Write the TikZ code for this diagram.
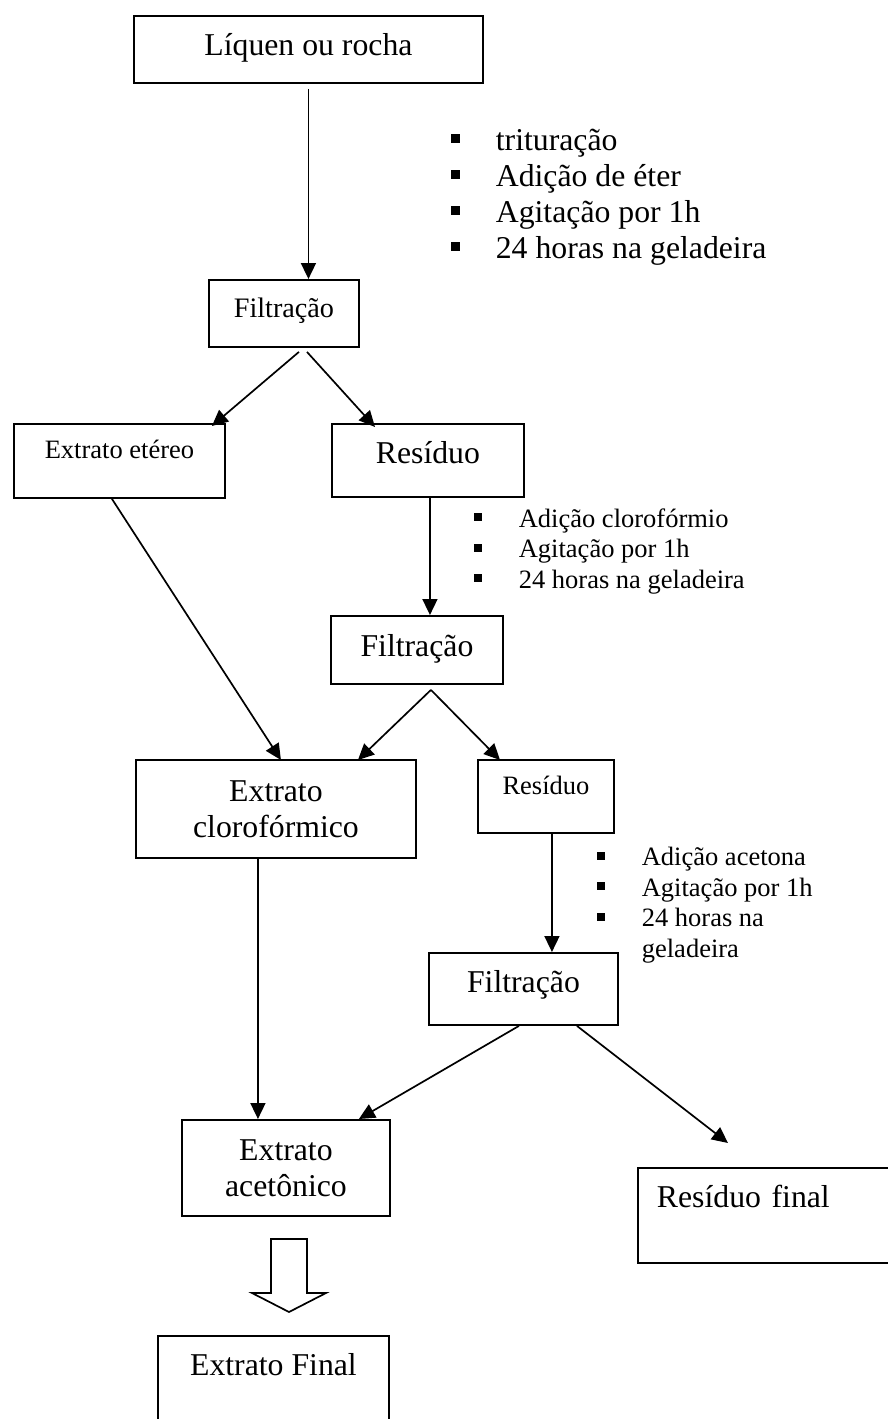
\documentclass[tikz,border=0pt]{standalone}
\usepackage{fontspec}
\setmainfont{Liberation Serif}
\usetikzlibrary{arrows.meta}
\newcommand{\fbig}{\fontsize{31.75}{36}\selectfont}
\newcommand{\fmid}{\fontsize{28.2}{34}\selectfont}
\newcommand{\fsmall}{\fontsize{26.5}{30.5}\selectfont}
\newcommand{\itm}{\makebox[45pt][l]{\rule[0.22em]{0.29em}{0.29em}}}

\begin{document}
\begin{tikzpicture}[x=1pt, y=-1pt, line width=1.7pt, >={Triangle[length=16pt,width=15pt]},
    box/.style={draw, line width=1.9pt, anchor=north west, inner xsep=0pt, inner ysep=0pt, font=\fbig},
    list/.style={anchor=base west, align=left, inner sep=0pt}]
    \useasboundingbox (0,0) rectangle (888,1419);
    \clip (0,0) rectangle (888,1419);

    % caixas
    \node[box, minimum width=349pt, text height=40pt, text depth=27pt] (liquen) at (133,15) {Líquen ou rocha};
    \node[box, font=\fmid, minimum width=150pt, text height=38pt, text depth=29pt] (filt1) at (208,279) {Filtração};
    \node[box, font=\fsmall, minimum width=211pt, text height=35pt, text depth=39pt] (etereo) at (13,423) {Extrato etéreo};
    \node[box, minimum width=192pt, text height=40pt, text depth=33pt] (res1) at (331,423) {Resíduo};
    \node[box, minimum width=172pt, text height=41pt, text depth=27pt] (filt2) at (330,615) {Filtração};
    \node[box, align=center, minimum width=280pt, minimum height=98pt] (cloro) at (135,759) {Extrato\\clorofórmico};
    \node[box, font=\fsmall, minimum width=136pt, text height=35pt, text depth=38pt] (res2) at (477,759) {Resíduo};
    \node[box, minimum width=189pt, text height=40pt, text depth=32pt] (filt3) at (428,952) {Filtração};
    \node[box, align=center, minimum width=208pt, minimum height=96pt] (aceto) at (181,1119) {Extrato\\acetônico};
    \node[box, minimum width=231pt, text height=40pt, text depth=100pt] (final) at (157,1335) {Extrato Final};
    \node[box, align=left, text width=225pt, inner xsep=19pt, text height=40pt, text depth=55pt] (resfim) at (637,1167) {Resíduo final};

    % etapas (ancoradas na ultima linha)
    \node[list, font=\fbig] (passos1) at (450,258) {\itm trituração\\\itm Adição de éter\\\itm Agitação por 1h\\\itm 24 horas na geladeira};
    \node[list, font=\fsmall] (passos2) at (473,588) {\itm Adição clorofórmio\\\itm Agitação por 1h\\\itm 24 horas na geladeira};
    \node[list, font=\fsmall] (passos3) at (596,957) {\itm Adição acetona\\\itm Agitação por 1h\\\itm 24 horas na\\\hspace*{45pt}geladeira};

    % setas
    \draw[->, shorten <=5pt] (liquen.south) -- (liquen.south |- filt1.north);
    \draw[->] ([xshift=15pt,yshift=-4pt]filt1.south) -- ([xshift=-14pt,yshift=-3pt]etereo.north east);
    \draw[->] ([xshift=23pt,yshift=-4pt]filt1.south) -- ([xshift=44pt,yshift=-4pt]res1.north west);
    \draw[->] ([xshift=-7.5pt]etereo.south) -- ([xshift=5pt,yshift=-1pt]cloro.north);
    \draw[->] ([xshift=2pt]res1.south) -- ([xshift=2pt]res1.south |- filt2.north);
    \draw[->] ([xshift=14pt,yshift=-5pt]filt2.south) -- ([xshift=82pt,yshift=-1pt]cloro.north);
    \draw[->] ([xshift=14pt,yshift=-5pt]filt2.south) -- ([xshift=23pt,yshift=-1pt]res2.north west);
    \draw[->] ([xshift=6pt]res2.south) -- ([xshift=6pt]res2.south |- filt3.north);
    \draw[->] ([xshift=-18pt]cloro.south) -- ([xshift=-18pt]cloro.south |- aceto.north);
    \draw[->] ([xshift=-4.5pt]filt3.south) -- ([xshift=-32pt]aceto.north east);
    \draw[->] ([xshift=53.5pt]filt3.south) -- ([xshift=91pt,yshift=24pt]resfim.north west);

    % seta larga
    \draw (271,1239) -- (271,1293) -- (252,1293) -- (289,1312) -- (326,1293) -- (307,1293) -- (307,1239) -- cycle;
\end{tikzpicture}
\end{document}
